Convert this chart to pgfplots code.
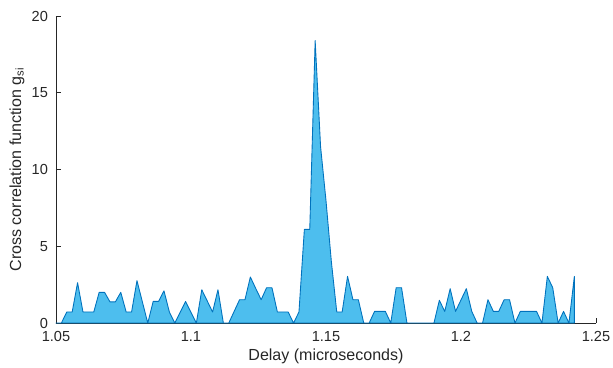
\documentclass[border=0pt]{standalone}
\usepackage{fontspec}
\setmainfont{Liberation Sans}
\usepackage{pgfplots}
\pgfplotsset{compat=1.18}
\definecolor{axgray}{RGB}{38,38,38}
\definecolor{afill}{RGB}{77,190,238}
\definecolor{aedge}{RGB}{0,114,189}
\begin{document}
\begin{tikzpicture}
\begin{axis}[
  name=ax,
  scale only axis,
  width=370.4pt, height=210.6pt,
  xmin=1.05, xmax=1.25, ymin=0, ymax=20,
  axis lines*=left,
  axis line style={axgray, line width=0.5pt},
  tick align=inside,
  major tick length=3.4pt,
  tick style={axgray, line width=0.5pt},
  xtick={1.05,1.1,1.15,1.2,1.25},
  xticklabels={1.05,1.1,1.15,1.2,1.25},
  ytick={0,5,10,15,20},
  /pgf/number format/assume math mode=true,
  ticklabel style={font=\fontsize{10}{12}\selectfont, text=axgray},
  xticklabel style={yshift=-2pt},
  yticklabel style={xshift=-2pt},
  xlabel={Delay (microseconds)},
  ylabel={Cross correlation function g\textsubscript{si}},
  label style={font=\fontsize{11}{13}\selectfont, text=axgray},
  xlabel style={at={(axis description cs:0.5,-0.107)}, anchor=center},
  ylabel style={at={(axis description cs:-0.0724,0.5)}, anchor=center},
  clip=false,
]
\addplot[fill=afill, draw=aedge, line width=0.6pt, line join=round] coordinates {
(1.050,0) (1.052,0) (1.054,0.72) (1.056,0.72) (1.058,2.63) (1.060,0.72)
(1.062,0.72) (1.064,0.72) (1.066,2.0) (1.068,2.0) (1.070,1.38) (1.072,1.38)
(1.074,2.0) (1.076,0.72) (1.078,0.72) (1.080,2.76) (1.082,1.38) (1.084,0)
(1.086,1.41) (1.088,1.41) (1.090,2.1) (1.092,0.72) (1.094,0) (1.096,0.7)
(1.098,1.41) (1.100,0.7) (1.102,0) (1.104,2.17) (1.106,1.45) (1.108,0.72)
(1.110,2.17) (1.112,0) (1.114,0) (1.116,0.76) (1.118,1.52) (1.120,1.52)
(1.122,3.0) (1.124,2.25) (1.126,1.52) (1.128,2.3) (1.130,2.3) (1.132,0.72)
(1.134,0.72) (1.136,0.72) (1.138,0) (1.140,0.72) (1.142,6.1) (1.144,6.1)
(1.146,18.4) (1.148,11.5) (1.150,8.0) (1.152,4.0) (1.154,0.72) (1.156,0.72)
(1.158,3.04) (1.160,1.52) (1.162,1.52) (1.164,0) (1.166,0) (1.168,0.76)
(1.170,0.76) (1.172,0.76) (1.174,0) (1.176,2.3) (1.178,2.3) (1.180,0)
(1.182,0) (1.184,0) (1.186,0) (1.188,0) (1.190,0) (1.192,1.48)
(1.194,0.76) (1.196,2.24) (1.198,0.76) (1.200,1.5) (1.202,2.24) (1.204,0.76)
(1.206,0) (1.208,0) (1.210,1.52) (1.212,0.76) (1.214,0.76) (1.216,1.52)
(1.218,1.52) (1.220,0) (1.222,0.76) (1.224,0.76) (1.226,0.76) (1.228,0.76)
(1.230,0) (1.232,3.04) (1.234,2.3) (1.236,0) (1.238,0.76) (1.240,0)
(1.242,3.04)
} \closedcycle;
\end{axis}
\pgfresetboundingbox
\path[use as bounding box] ([shift={(-38.4pt,-30.2pt)}]ax.south west) rectangle ([shift={(11.7pt,11pt)}]ax.north east);
\end{tikzpicture}
\end{document}
